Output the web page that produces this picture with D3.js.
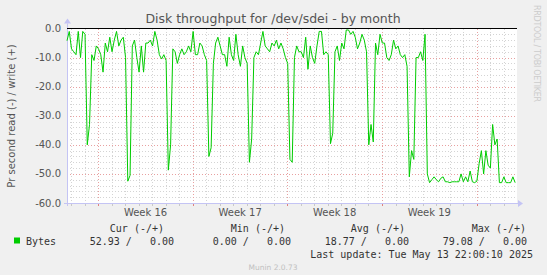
<!DOCTYPE html>
<html>
<head>
<meta charset="UTF-8">
<title>Disk throughput for /dev/sdei - by month</title>
<script src="https://cdn.jsdelivr.net/npm/d3@7"></script>
<style>
    body { margin: 0; background: #f0f0f0; }
    svg { display: block; font-family: "DejaVu Sans", sans-serif; }
    .mono { font-family: "DejaVu Sans Mono", monospace; }
</style>
</head>
<body>
<svg id="chart" width="547" height="275"></svg>
<script>
    // période affichée et pas des mesures (4 h)
    const startTime = new Date(2025, 3, 10, 16, 30);
    const endTime = new Date(2025, 4, 13, 22, 0);
    const stepHours = 4;

    // octets lus par seconde (tracés en négatif)
    const readBytes = [
        4.2, 1, 7, 8, 9, 1, 10, 1, 2, 40,
        33, 9, 11, 6, 7, 9, 15, 5, 8, 3,
        8, 4, 1, 6, 4, 3, 10, 52.5, 50.5, 6,
        4, 10, 15, 6, 15, 5, 5, 4, 6, 1,
        4, 9, 10.5, 9, 11, 48.7, 40, 7, 8, 12,
        9, 7, 9, 8, 6, 8, 1, 9, 9, 5,
        6, 9, 11, 44, 41, 12, 5, 3, 6, 9,
        9, 13, 3, 9, 11, 2, 9, 13, 6, 10,
        12, 46, 38, 10, 8, 9, 5, 1, 6, 7,
        8, 5, 6, 4, 7, 5, 7, 10, 12, 45,
        46, 10, 6, 8, 8, 10, 3, 14, 6, 10,
        12, 6, 1, 1, 9, 8, 9, 39.6, 36, 8,
        6, 11, 5, 7, 0.5, 0.5, 2, 1, 3, 7,
        5, 2, 4, 8, 40, 33, 39, 5, 9, 2,
        5, 5, 10, 11, 9, 4, 7, 6, 9, 10,
        9, 13, 51, 42, 45, 10, 10, 8, 11, 2,
        50, 53, 52, 51, 52, 52.7, 51.5, 51, 52.7, 52.7,
        53, 52.7, 52.7, 52.7, 52.7, 50, 52.7, 51, 52.7, 49,
        52.7, 53, 52.5, 46.5, 42, 50, 42, 47, 48, 33,
        40, 38, 53, 53, 51, 53, 53, 53, 51, 53
    ];
    const writeBytes = readBytes.map(() => 0);

    const yTicks = [0, -10, -20, -30, -40, -50, -60];
    const weekLabels = ["Week 16", "Week 17", "Week 18", "Week 19"];
    const legendHeaders = ["Cur (-/+)", "Min (-/+)", "Avg (-/+)", "Max (-/+)"];
    const legendValues = ["52.93 /   0.00", "0.00 /   0.00", "18.77 /   0.00", "79.08 /   0.00"];

    const data = readBytes.map((v, i) => ({
        t: d3.timeHour.offset(startTime, i * stepHours),
        read: v,
        write: writeBytes[i]
    }));

    const plotLeft = 67, plotRight = 516, plotTop = 28.5, plotBottom = 203;

    const x = d3.scaleTime().domain([startTime, endTime]).range([plotLeft, plotRight]);
    const y = d3.scaleLinear().domain([0, -60]).range([plotTop, plotBottom]);

    // espaces insécables pour garder l'alignement de rrdtool
    const keepSpaces = s => s.replace(/ /g, "\u00a0");

    const svg = d3.select("#chart");
    svg.append("rect").attr("width", 547).attr("height", 275).attr("fill", "#f0f0f0");
    svg.append("rect")
        .attr("x", plotLeft).attr("y", plotTop)
        .attr("width", plotRight - plotLeft + 1).attr("height", plotBottom - plotTop)
        .attr("fill", "#ffffff");

    const grid = svg.append("g").attr("shape-rendering", "crispEdges");

    // grille horizontale : mineure tous les 2, majeure tous les 10
    d3.range(-2, -60, -2).filter(v => v % 10 !== 0).forEach(v => {
        grid.append("line")
            .attr("x1", plotLeft).attr("x2", plotRight + 1)
            .attr("y1", Math.round(y(v)) + 0.5).attr("y2", Math.round(y(v)) + 0.5)
            .attr("stroke", "#d4d4d4").attr("stroke-dasharray", "1,2");
    });
    yTicks.filter(v => v !== 0 && v !== -60).forEach(v => {
        grid.append("line")
            .attr("x1", plotLeft).attr("x2", plotRight + 1)
            .attr("y1", Math.round(y(v)) + 0.5).attr("y2", Math.round(y(v)) + 0.5)
            .attr("stroke", "#e8a0a0").attr("stroke-dasharray", "1,2");
    });

    // grille verticale : jours et semaines (dimanche)
    const days = d3.timeDay.range(d3.timeDay.ceil(startTime), endTime);
    days.forEach(d => {
        const isWeek = d.getDay() === 0;
        const xx = Math.round(x(d)) + 0.5;
        grid.append("line")
            .attr("x1", xx).attr("x2", xx)
            .attr("y1", plotTop).attr("y2", plotBottom)
            .attr("stroke", isWeek ? "#e8a0a0" : "#d4d4d4")
            .attr("stroke-dasharray", "1,2");
        grid.append("line")
            .attr("x1", xx).attr("x2", xx)
            .attr("y1", plotBottom).attr("y2", plotBottom + 3)
            .attr("stroke", isWeek ? "#e08080" : "#c8c8c8");
    });

    // axes
    const axisColor = "#c4c4f4";
    svg.append("line")
        .attr("x1", plotLeft - 3).attr("x2", plotRight + 2)
        .attr("y1", plotBottom + 0.5).attr("y2", plotBottom + 0.5)
        .attr("stroke", axisColor);
    svg.append("path")
        .attr("d", `M${plotRight + 2},${plotBottom - 3}L${plotRight + 7},${plotBottom + 0.5}L${plotRight + 2},${plotBottom + 4}Z`)
        .attr("fill", axisColor);
    svg.append("line")
        .attr("x1", plotLeft + 0.5).attr("x2", plotLeft + 0.5)
        .attr("y1", plotBottom + 3).attr("y2", plotTop - 5)
        .attr("stroke", axisColor);
    svg.append("path")
        .attr("d", `M${plotLeft - 3},${plotTop - 5}L${plotLeft + 0.5},${plotTop - 10}L${plotLeft + 4},${plotTop - 5}Z`)
        .attr("fill", axisColor);

    // libellés de l'axe Y
    svg.append("g")
        .attr("font-size", 10).attr("fill", "#555").attr("text-anchor", "end")
        .selectAll("text")
        .data(yTicks)
        .join("text")
        .attr("x", 61)
        .attr("y", d => y(d) + 3.5)
        .text(d => d.toFixed(1));

    // semaines
    const sundays = d3.timeSunday.range(startTime, endTime);
    svg.append("g")
        .attr("font-size", 10).attr("fill", "#555").attr("text-anchor", "middle")
        .selectAll("text")
        .data(sundays.slice(0, weekLabels.length))
        .join("text")
        .attr("x", d => x(d3.timeHour.offset(d, 84)))
        .attr("y", 216)
        .text((d, i) => weekLabels[i]);

    // courbe lecture (négatif)
    const line = d3.line()
        .x(d => x(d.t))
        .y(d => y(-d.read));
    svg.append("path")
        .datum(data)
        .attr("fill", "none")
        .attr("stroke", "#00cc00")
        .attr("stroke-width", 1)
        .attr("d", line);

    // écriture (0) + ligne zéro
    svg.append("line")
        .attr("x1", plotLeft).attr("x2", plotRight + 1)
        .attr("y1", y(0)).attr("y2", y(0))
        .attr("stroke", "#000").attr("stroke-width", 1.2);

    // titre
    svg.append("text")
        .attr("x", 273).attr("y", 23)
        .attr("text-anchor", "middle")
        .attr("font-size", 12.5)
        .attr("fill", "#555")
        .text("Disk throughput for /dev/sdei - by month");

    svg.append("text")
        .attr("transform", "translate(15,116) rotate(-90)")
        .attr("text-anchor", "middle")
        .attr("font-size", 10)
        .attr("fill", "#555")
        .text("Pr second read (-) / write (+)");

    svg.append("text")
        .attr("transform", "translate(534,5) rotate(90)")
        .attr("font-size", 8)
        .attr("textLength", 97)
        .attr("lengthAdjust", "spacing")
        .attr("fill", "#cccccc")
        .text("RRDTOOL / TOBI OETIKER");

    // légende
    const headerRight = [164, 285, 405, 526];
    const valueRight = [174, 291, 409, 527];
    const legend = svg.append("g").attr("class", "mono").attr("font-size", 10).attr("fill", "#333");
    legend.selectAll("text.h")
        .data(legendHeaders)
        .join("text")
        .attr("class", "h")
        .attr("x", (d, i) => headerRight[i]).attr("y", 232)
        .attr("text-anchor", "end")
        .text(d => keepSpaces(d));
    legend.selectAll("text.v")
        .data(legendValues)
        .join("text")
        .attr("class", "v")
        .attr("x", (d, i) => valueRight[i]).attr("y", 245)
        .attr("text-anchor", "end")
        .text(d => keepSpaces(d));
    legend.append("text").attr("x", 26).attr("y", 245).text("Bytes");
    svg.append("rect")
        .attr("x", 14).attr("y", 237.5).attr("width", 6).attr("height", 6)
        .attr("fill", "#00cc00");
    legend.append("text")
        .attr("x", 533).attr("y", 257.5)
        .attr("text-anchor", "end")
        .text("Last update: Tue May 13 22:00:10 2025");

    svg.append("text")
        .attr("x", 273).attr("y", 270)
        .attr("text-anchor", "middle")
        .attr("font-size", 7.5)
        .attr("fill", "#c0c0c0")
        .text("Munin 2.0.73");
</script>
</body>
</html>
